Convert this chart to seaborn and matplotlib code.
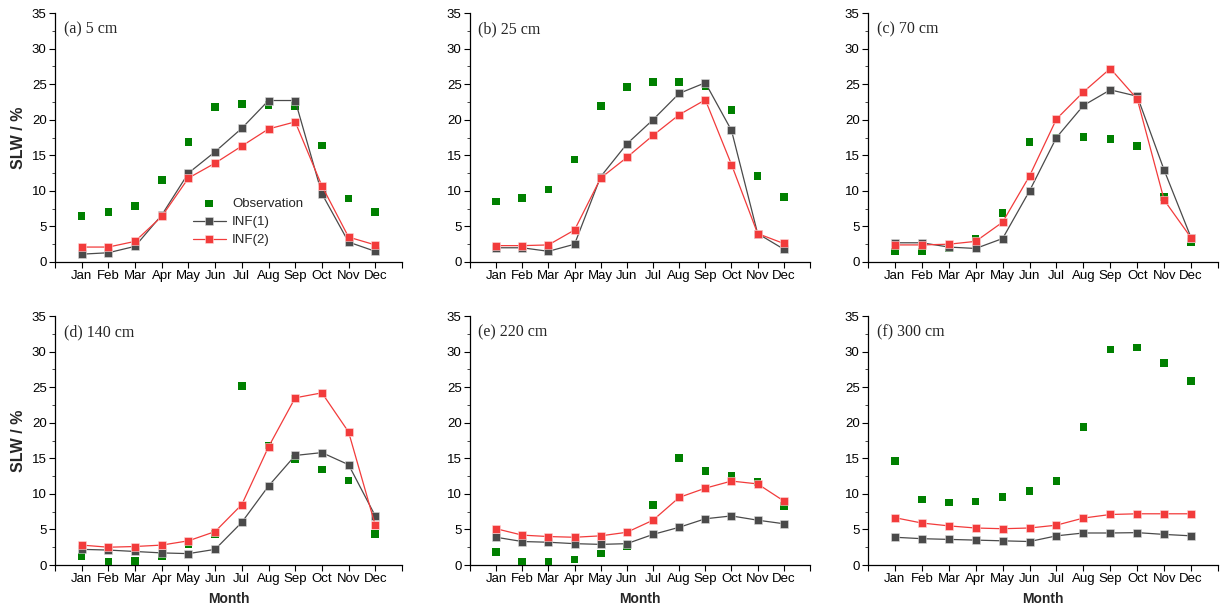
import numpy as np
import pandas as pd
import matplotlib
matplotlib.use("Agg")
import matplotlib.pyplot as plt
from matplotlib.ticker import MultipleLocator, FixedLocator
import seaborn as sns

sns.set_style("ticks")
plt.rcParams['font.family'] = ['Liberation Sans', 'DejaVu Sans']

# ==============================
# DATA
# ==============================
months = ["Jan", "Feb", "Mar", "Apr", "May", "Jun",
          "Jul", "Aug", "Sep", "Oct", "Nov", "Dec"]
panel_titles = ["(a) 5 cm", "(b) 25 cm", "(c) 70 cm",
                "(d) 140 cm", "(e) 220 cm", "(f) 300 cm"]

obs_5 = [6.5, 7.0, 7.9, 11.5, 16.9, 21.8, 22.2, 22.1, 21.9, 16.4, 8.9, 7.0]
inf1_5 = [1.1, 1.3, 2.2, 6.6, 12.5, 15.5, 18.8, 22.7, 22.7, 9.6, 2.8, 1.5]
inf2_5 = [2.1, 2.1, 2.9, 6.4, 11.8, 13.9, 16.3, 18.7, 19.7, 10.7, 3.5, 2.4]

obs_25 = [8.5, 9.0, 10.2, 14.4, 21.9, 24.6, 25.3, 25.3, 24.7, 21.4, 12.1, 9.1]
inf1_25 = [2.0, 2.0, 1.5, 2.5, 12.0, 16.6, 20.0, 23.7, 25.2, 18.5, 4.0, 1.8]
inf2_25 = [2.3, 2.3, 2.4, 4.5, 11.8, 14.7, 17.8, 20.7, 22.8, 13.7, 4.0, 2.6]

obs_70 = [1.45, 1.45, 1.9, 3.3, 6.9, 16.9, 17.4, 17.6, 17.3, 16.3, 9.1, 2.8]
inf1_70 = [2.7, 2.7, 2.1, 1.9, 3.3, 10.0, 17.5, 22.0, 24.2, 23.3, 12.9, 3.4]
inf2_70 = [2.4, 2.4, 2.5, 2.9, 5.6, 12.1, 20.1, 23.9, 27.2, 22.9, 8.7, 3.4]

obs_140 = [1.2, 0.5, 0.6, 1.2, 2.9, 4.4, 25.2, 16.8, 14.9, 13.4, 11.9, 4.4]
inf1_140 = [2.2, 2.1, 1.9, 1.7, 1.6, 2.2, 6.0, 11.1, 15.4, 15.8, 14.1, 6.9]
inf2_140 = [2.8, 2.5, 2.6, 2.8, 3.4, 4.7, 8.5, 16.6, 23.5, 24.2, 18.7, 5.6]

obs_220 = [1.8, 0.5, 0.4, 0.8, 1.6, 2.6, 8.4, 15.0, 13.2, 12.5, 11.7, 8.3]
inf1_220 = [3.9, 3.3, 3.2, 3.0, 2.9, 3.0, 4.3, 5.3, 6.5, 6.9, 6.3, 5.8]
inf2_220 = [5.1, 4.2, 4.0, 3.9, 4.1, 4.6, 6.3, 9.5, 10.8, 11.8, 11.4, 9.0]

obs_300 = [14.6, 9.2, 8.8, 8.9, 9.6, 10.4, 11.8, 19.4, 30.3, 30.6, 28.4, 25.9]
inf1_300 = [3.9, 3.7, 3.6, 3.5, 3.4, 3.3, 4.1, 4.5, 4.5, 4.55, 4.3, 4.1]
inf2_300 = [6.65, 5.9, 5.5, 5.2, 5.1, 5.2, 5.6, 6.6, 7.1, 7.2, 7.2, 7.2]

observations = [obs_5, obs_25, obs_70, obs_140, obs_220, obs_300]
inf1_series = [inf1_5, inf1_25, inf1_70, inf1_140, inf1_220, inf1_300]
inf2_series = [inf2_5, inf2_25, inf2_70, inf2_140, inf2_220, inf2_300]

# ==============================
# LAYOUT
# ==============================
fig = plt.figure(figsize=(12.27, 6.14), dpi=100)

# [left, bottom, width, height] in figure fraction
positions = [
    [0.0448, 0.5733, 0.2828, 0.4055],
    [0.3830, 0.5733, 0.2771, 0.4055],
    [0.7074, 0.5733, 0.2853, 0.4055],
    [0.0448, 0.0798, 0.2828, 0.4055],
    [0.3830, 0.0798, 0.2771, 0.4055],
    [0.7074, 0.0798, 0.2853, 0.4055],
]

green = "#008000"
gray = "#4a4a4a"
red = "#f23b3b"
x = np.arange(1, 13)

for i in range(6):
    ax = fig.add_axes(positions[i])
    df = pd.DataFrame({"month": x, "obs": observations[i],
                       "inf1": inf1_series[i], "inf2": inf2_series[i]})

    sns.scatterplot(data=df, x="month", y="obs", ax=ax, marker="s", s=30,
                    color=green, edgecolor="none", label="Observation", zorder=3)
    sns.lineplot(data=df, x="month", y="inf1", ax=ax, marker="s", markersize=6,
                 color=gray, linewidth=0.9, markeredgecolor="#dddddd",
                 markeredgewidth=0.4, label="INF(1)", zorder=4)
    sns.lineplot(data=df, x="month", y="inf2", ax=ax, marker="s", markersize=6,
                 color=red, linewidth=0.9, markeredgecolor="#ffdddd",
                 markeredgewidth=0.4, label="INF(2)", zorder=5)

    ax.set_xlim(0, 13)
    ax.set_ylim(0, 35)
    ax.xaxis.set_major_locator(FixedLocator(range(0, 14)))
    ax.set_xticklabels([""] + months + [""])
    ax.yaxis.set_major_locator(MultipleLocator(5))
    ax.yaxis.set_minor_locator(MultipleLocator(2.5))
    ax.tick_params(axis="both", which="major", direction="out", length=4,
                   width=0.8, labelsize=9.5, colors="black", pad=2)
    ax.tick_params(axis="y", which="minor", direction="out", length=2, width=0.6)
    sns.despine(ax=ax)
    for side in ["left", "bottom"]:
        ax.spines[side].set_linewidth(0.9)
        ax.spines[side].set_color("black")

    ax.text(0.025, 0.965, panel_titles[i], transform=ax.transAxes,
            fontsize=11.5, family="Liberation Serif", va="top", ha="left")

    if i % 3 == 0:
        ax.set_ylabel("SLW / %", fontsize=11.5, fontweight="bold", labelpad=4)
    else:
        ax.set_ylabel("")
    if i >= 3:
        ax.set_xlabel("Month", fontsize=10, fontweight="bold", labelpad=5)
    else:
        ax.set_xlabel("")

    if i == 0:
        ax.legend(loc="upper left", bbox_to_anchor=(0.37, 0.295), frameon=False,
                  fontsize=9.5, handlelength=2.5, handletextpad=0.5,
                  labelspacing=0.45, borderpad=0.2)
    else:
        ax.get_legend().remove()

fig.savefig("out.png", dpi=100)
